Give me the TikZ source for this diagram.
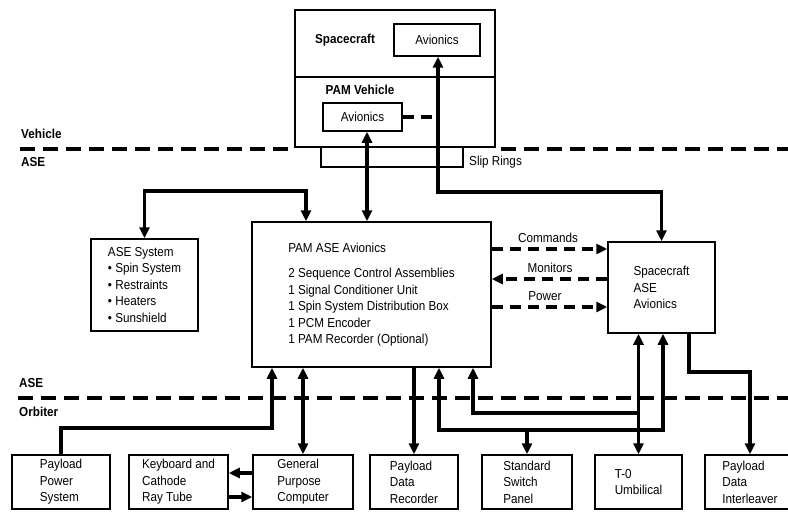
\documentclass[tikz,border=0pt]{standalone}
\usepackage{fontspec}
\setmainfont[FakeStretch=0.9]{Liberation Sans}
\usetikzlibrary{arrows.meta}

\begin{document}
\begin{tikzpicture}[
  x=1pt, y=-1pt,
  every node/.style={inner sep=1pt, font=\fontsize{13}{16.5}\selectfont},
  box/.style={draw, line width=1.5pt, align=left, inner sep=0pt},
  tag/.style={font=\fontsize{13}{14}\selectfont\bfseries},
  wire/.style={draw, line width=3.4pt},
  feed/.style={wire, -{Triangle[length=11pt,width=10pt]}},
  both/.style={wire, {Triangle[length=11pt,width=10pt]}-{Triangle[length=11pt,width=10pt]}},
  dlink/.style={draw, line width=3.4pt, dash pattern=on 11pt off 7pt},
  sep/.style={draw, line width=3.2pt, dash pattern=on 15pt off 8pt}]

  \useasboundingbox (0,0) rectangle (788,519);

  % vehicle side
  \node[box, minimum width=200, minimum height=137] (vehicle) at (395,78.5) {};
  \node[box, minimum width=142, minimum height=20] (slip) at (392,157) {};
  \node[box, minimum width=86, minimum height=32] (scav) at (437,40) {Avionics};
  \node[box, minimum width=79, minimum height=28] (pamav) at (362.5,117) {Avionics};
  \node[tag] (lsc) at (345,40) {Spacecraft};
  \node[tag] (lpam) at (360,90) {PAM Vehicle};
  \node[anchor=west] (lslip) at (468,162) {Slip Rings};
  \coordinate (mid) at (395,77);
  \draw[line width=1.5pt] (vehicle.west |- mid) -- (vehicle.east |- mid);

  % ASE boxes
  \node[box, minimum width=107, minimum height=92] (ase) at (144.5,285)
    {ASE System\\\textbullet\ Spin System\\\textbullet\ Restraints\\\textbullet\ Heaters\\\textbullet\ Sunshield};
  \node[box, minimum width=239, minimum height=145] (pamase) at (371.5,294.5)
    {PAM ASE Avionics\\[9pt]2 Sequence Control Assemblies\\1 Signal Conditioner Unit\\
     1 Spin System Distribution Box\\1 PCM Encoder\\1 PAM Recorder (Optional)};
  \node[box, minimum width=107, minimum height=91] (scase) at (661.5,287.5)
    {Spacecraft\\ASE\\Avionics};

  % orbiter boxes
  \node[box, minimum width=98, minimum height=54] (pps) at (61,482) {Payload\\Power\\System};
  \node[box, minimum width=99, minimum height=54] (crt) at (178.5,482) {Keyboard and\\Cathode\\Ray Tube};
  \node[box, minimum width=100, minimum height=54] (gpc) at (303,482) {General\\Purpose\\Computer};
  \node[box, minimum width=88, minimum height=54] (pdr) at (414,482) {Payload\\Data\\Recorder};
  \node[box, minimum width=90, minimum height=54] (ssp) at (527,482) {Standard\\Switch\\Panel};
  \node[box, minimum width=87, minimum height=54] (t0) at (638.5,482) {T-0\\Umbilical};
  \node[box, minimum width=90, minimum height=54] (pdi) at (750,482) {Payload\\Data\\Interleaver};

  % interface lines
  \coordinate (v1) at (20,149);
  \coordinate (v2) at (788,149);
  \coordinate (o1) at (18,398);
  \coordinate (o2) at (788,398);
  \draw[sep] (v1) -- (vehicle.west |- v1);
  \draw[sep] (slip.east |- v1) ++(37,0) -- (v2);
  \draw[sep] (o1) -- (o2);
  \node[tag, anchor=west] (lveh) at (20,134) {Vehicle};
  \node[tag, anchor=west] (lase1) at (20,162) {ASE};
  \node[tag, anchor=west] (lase2) at (18,383) {ASE};
  \node[tag, anchor=west] (lorb) at (18,412) {Orbiter};

  % bends
  \coordinate (k1) at (306,191);
  \coordinate (k2) at (367,131);
  \coordinate (k3) at (438,192);
  \coordinate (k4) at (272,428);
  \coordinate (k5) at (240,473);
  \coordinate (k6) at (240,497);
  \coordinate (k7) at (663,430);
  \coordinate (k8) at (439,430);
  \coordinate (k9) at (473,413);
  \coordinate (k10) at (689,372);
  \coordinate (cmd) at (550,249);
  \coordinate (mon) at (550,279);
  \coordinate (pow) at (550,307);

  % solid connectors
  \draw[both] (pamase.north -| k1) -- (k1) -| (ase.north);
  \draw[both] (pamav.south -| k2) -- (pamase.north -| k2);
  \draw[both] (scav.south -| k3) -- (k3) -| (scase.north);
  \draw[dlink] (pamav.east) -- (pamav.east -| k3);
  \draw[feed] (pps.north) |- (k4) -- (pamase.south -| k4);
  \draw[both] (gpc.north) -- (pamase.south -| gpc.north);
  \draw[feed] (gpc.west |- k5) -- (crt.east |- k5);
  \draw[feed] (crt.east |- k6) -- (gpc.west |- k6);
  \draw[feed] (pamase.south -| pdr.north) -- (pdr.north);
  \draw[both] (scase.south -| k7) -- (k7) -- (k8) -- (pamase.south -| k8);
  \draw[feed] (ssp.north |- k7) -- (ssp.north);
  \draw[both] (scase.south -| t0.north) -- (t0.north);
  \draw[feed] (t0.north |- k9) -- (k9) -- (pamase.south -| k9);
  \draw[feed] (scase.south -| k10) -- (k10) -| (pdi.north);

  % dashed signal arrows
  \draw[dlink, -{Triangle[length=11pt,width=10pt]}] (pamase.east |- cmd) -- (scase.west |- cmd);
  \draw[dlink, -{Triangle[length=11pt,width=10pt]}] (scase.west |- mon) -- (pamase.east |- mon);
  \draw[dlink, -{Triangle[length=11pt,width=10pt]}] (pamase.east |- pow) -- (scase.west |- pow);
  \node (lcmd) at (548,238) {Commands};
  \node (lmon) at (550,268) {Monitors};
  \node (lpow) at (545,296) {Power};
\end{tikzpicture}
\end{document}
